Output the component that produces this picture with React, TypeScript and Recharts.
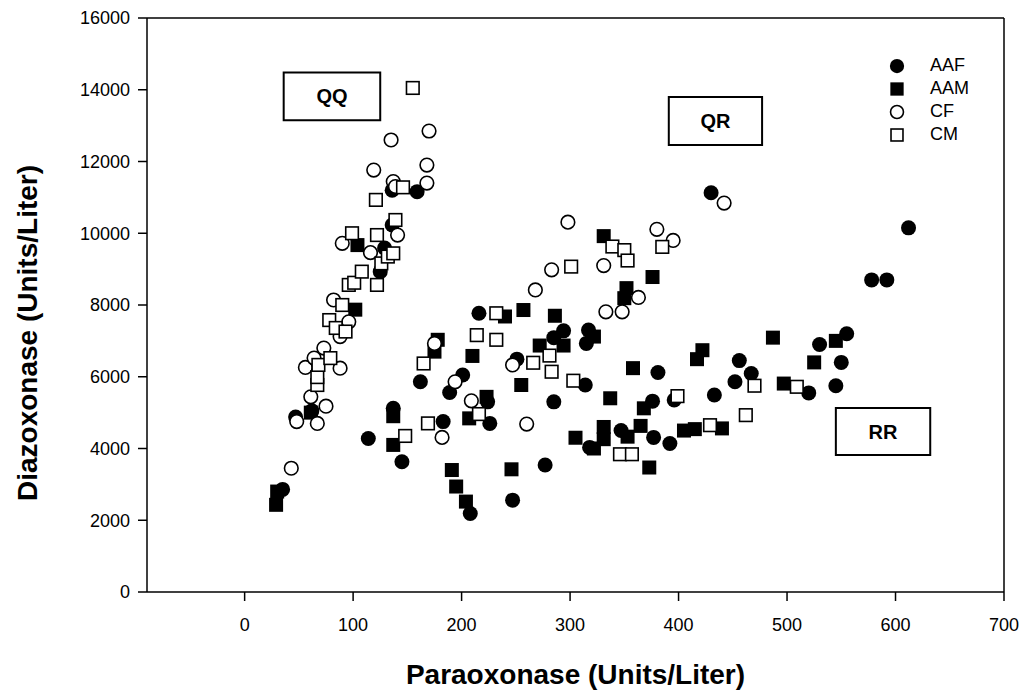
import { ScatterChart, Scatter, XAxis, YAxis, ReferenceArea, ReferenceLine, Legend, Label } from "recharts";

const font = '"Liberation Sans", Arial, Helvetica, sans-serif';

const xTicks = [0, 100, 200, 300, 400, 500, 600, 700];
const yTicks = [0, 2000, 4000, 6000, 8000, 10000, 12000, 14000, 16000];

// Paraoxonase, Diazoxonase pairs
const aafPoints: [number, number][] = [
    [35, 2860], [47, 4880], [62, 5050], [114, 4280], [125, 8930], [129, 9590], [136, 10230], [136, 11200],
    [159, 11160], [137, 5120], [145, 3630], [162, 5860], [183, 4750], [189, 5560], [201, 6050], [208, 2190],
    [216, 7770], [226, 4700], [224, 5300], [247, 2560], [251, 6490], [277, 3540], [285, 5300], [285, 7090],
    [294, 7280], [315, 6930], [317, 7300], [314, 5770], [318, 4030], [347, 4500], [376, 5320], [377, 4310],
    [381, 6120], [392, 4140], [396, 5350], [433, 5490], [430, 11130], [452, 5860], [456, 6450], [467, 6090],
    [520, 5550], [530, 6900], [545, 5750], [550, 6400], [555, 7200], [578, 8700], [592, 8700], [612, 10150],
];

const aamPoints: [number, number][] = [
    [29, 2430], [30, 2800], [61, 5000], [104, 9670], [102, 7870], [137, 4900], [137, 4100], [175, 6700],
    [178, 7030], [191, 3400], [195, 2940], [204, 2520], [207, 4840], [210, 6580], [223, 5440], [240, 7680],
    [246, 3420], [255, 5770], [257, 7860], [272, 6870], [286, 7700], [294, 6870], [322, 7120], [305, 4300],
    [322, 4000], [331, 4260], [331, 4600], [331, 9920], [337, 5400], [350, 8190], [352, 8470], [353, 4330],
    [358, 6240], [368, 5120], [373, 3470], [376, 8780], [365, 4630], [405, 4500], [415, 4540], [417, 6490],
    [422, 6740], [440, 4560], [487, 7090], [497, 5810], [525, 6400], [545, 7000],
];

const cfPoints: [number, number][] = [
    [43, 3450], [48, 4750], [56, 6260], [61, 5440], [64, 6520], [67, 4700], [73, 6800], [75, 5180],
    [82, 8140], [88, 6240], [88, 7120], [90, 9720], [96, 7530], [116, 9460], [119, 11760], [137, 11440],
    [139, 11300], [135, 12600], [141, 9950], [168, 11400], [168, 11900], [170, 12850], [175, 6930], [194, 5860],
    [209, 5330], [182, 4310], [247, 6330], [260, 4680], [268, 8420], [283, 8980], [298, 10310], [331, 9100],
    [333, 7810], [348, 7810], [363, 8210], [380, 10110], [395, 9800], [442, 10840],
];

const cmPoints: [number, number][] = [
    [67, 5770], [67, 5990], [68, 6330], [79, 6520], [78, 7580], [84, 7360], [90, 8000], [93, 7260],
    [96, 8560], [101, 8620], [99, 10000], [108, 8930], [122, 8560], [121, 10930], [122, 9950], [126, 9160],
    [132, 9350], [137, 9440], [139, 10370], [146, 11280], [155, 14050], [148, 4350], [169, 4700], [165, 6370],
    [214, 7160], [216, 4960], [232, 7770], [232, 7030], [266, 6390], [281, 6590], [283, 6140], [303, 5890],
    [301, 9070], [339, 9630], [350, 9530], [353, 9240], [346, 3840], [357, 3840], [385, 9620], [399, 5460],
    [429, 4650], [462, 4930], [470, 5750], [509, 5720],
];

const toXY = (pts: [number, number][]) => pts.map(([x, y]) => ({ x, y }));

const series = [
    { name: "AAF", points: aafPoints, kind: "circle", filled: true },
    { name: "AAM", points: aamPoints, kind: "square", filled: true },
    { name: "CF", points: cfPoints, kind: "circle", filled: false },
    { name: "CM", points: cmPoints, kind: "square", filled: false },
];

// genotype boxes, in data units
const boxes = [
    { label: "QQ", x1: 36, x2: 125, y1: 13150, y2: 14480 },
    { label: "QR", x1: 391, x2: 477, y1: 12460, y2: 13800 },
    { label: "RR", x1: 545, x2: 632, y1: 3820, y2: 5130 },
];

function Marker({ cx, cy, kind, filled, scale = 1 }: any) {
    if (cx == null || cy == null) return null;
    const fill = filled ? "#000" : "#fff";
    if (kind === "circle") {
        const r = (filled ? 7.5 : 6.8) * scale;
        return <circle cx={cx} cy={cy} r={r} fill={fill} stroke="#000" strokeWidth={filled ? 0 : 1.6} />;
    }
    const s = (filled ? 14 : 12.6) * scale;
    return <rect x={cx - s / 2} y={cy - s / 2} width={s} height={s} fill={fill} stroke="#000" strokeWidth={filled ? 0 : 1.6} />;
}

function LegendBox() {
    return (
        <div style={{ fontFamily: font, fontSize: 18, color: "#000" }}>
            {series.map((s) => (
                <div key={s.name} style={{ display: "flex", alignItems: "center", height: 23 }}>
                    <svg width={16} height={16} style={{ marginRight: 25 }}>
                        <Marker cx={8} cy={8} kind={s.kind} filled={s.filled} scale={0.95} />
                    </svg>
                    <span>{s.name}</span>
                </div>
            ))}
        </div>
    );
}

function YTitle({ viewBox }: any) {
    const cx = viewBox.x + 27;
    const cy = viewBox.y + viewBox.height / 2 + 28;
    return (
        <text x={cx} y={cy} transform={`rotate(-90 ${cx} ${cy})`} textAnchor="middle" dominantBaseline="central"
            style={{ fontFamily: font, fontSize: 28, fontWeight: "bold" }} fill="#000">
            Diazoxonase (Units/Liter)
        </text>
    );
}

export default function App() {
    const tickStyle = { fontFamily: font, fontSize: 18, fill: "#000" };
    return (
        <div style={{ width: 1021, height: 690, background: "#fff" }}>
            {/* drop the default body margin so the chart sits at the window origin */}
            <style>{"html, body { margin: 0; padding: 0; overflow: hidden; background: #fff; }"}</style>
            <ScatterChart width={1021} height={690} margin={{ top: 18, right: 17, bottom: 0, left: 0 }}>
                <XAxis type="number" dataKey="x" domain={[-90, 700]} ticks={xTicks} allowDataOverflow
                    height={98} tickSize={9} tickMargin={17} tick={tickStyle}
                    axisLine={{ stroke: "#000", strokeWidth: 1.5 }} tickLine={{ stroke: "#000", strokeWidth: 1.5 }}>
                    <Label value="Paraoxonase (Units/Liter)" position="insideTop" offset={72}
                        style={{ fontFamily: font, fontSize: 28, fontWeight: "bold", fill: "#000" }} />
                </XAxis>
                <YAxis type="number" dataKey="y" domain={[0, 16000]} ticks={yTicks} allowDataOverflow
                    width={147} tickSize={9} tickMargin={8} tick={tickStyle}
                    axisLine={{ stroke: "#000", strokeWidth: 1.5 }} tickLine={{ stroke: "#000", strokeWidth: 1.5 }}>
                    <Label content={YTitle} />
                </YAxis>
                <ReferenceLine y={16000} stroke="#000" strokeWidth={1.5} />
                <ReferenceLine x={700} stroke="#000" strokeWidth={1.5} />
                {boxes.map((b) => (
                    <ReferenceArea key={b.label} x1={b.x1} x2={b.x2} y1={b.y1} y2={b.y2}
                        fill="#fff" fillOpacity={1} stroke="#000" strokeWidth={2}
                        label={{ value: b.label, position: "center", fontFamily: font, fontSize: 20, fontWeight: "bold", fill: "#000" }} />
                ))}
                {series.map((s) => (
                    <Scatter key={s.name} name={s.name} data={toXY(s.points)} isAnimationActive={false}
                        shape={(p: any) => <Marker {...p} kind={s.kind} filled={s.filled} />} />
                ))}
                <Legend content={LegendBox} layout="vertical" align="center" verticalAlign="middle"
                    wrapperStyle={{ top: 54, left: 889, width: 120, height: 100 }} />
            </ScatterChart>
        </div>
    );
}
